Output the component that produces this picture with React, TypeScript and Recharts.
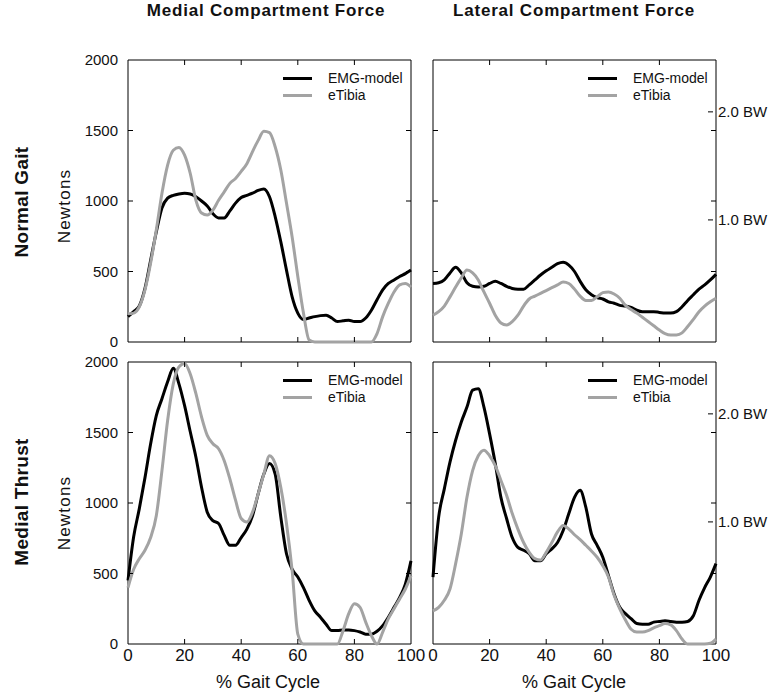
import { Line, LineChart, ReferenceArea, XAxis, YAxis } from "recharts"

const FONT = '"Liberation Sans", Arial, sans-serif'

const gaitPct = [
  0, 2, 4, 6, 8, 10, 12, 14, 16, 18, 20, 22, 24, 26, 28, 30, 32, 34, 36, 38, 40, 42, 44, 46, 48, 50,
  52, 54, 56, 58, 60, 62, 64, 66, 68, 70, 72, 74, 76, 78, 80, 82, 84, 86, 88, 90, 92, 94, 96, 98, 100,
]

// Normal gait
const normalMedialEmg = [
  180, 215, 255, 380, 580, 780, 950, 1020, 1040, 1050,
  1055, 1050, 1030, 1000, 965, 910, 880, 880, 930, 985,
  1025, 1040, 1055, 1075, 1085, 1030, 890, 710, 510, 320,
  205, 160, 170, 180, 187, 190, 170, 145, 150, 155,
  145, 145, 170, 225, 300, 370, 415, 440, 465, 485,
  510,
]
const normalMedialTibia = [
  200, 205, 250, 370, 560, 795, 1055, 1255, 1360, 1380,
  1325, 1195, 1005, 915, 900, 935, 1005, 1065, 1125, 1160,
  1210, 1265, 1350, 1430, 1495, 1485, 1385, 1220, 985, 745,
  465, 205, 15, 0, 0, 0, 0, 0, 0, 0,
  0, 0, 0, 0, 60, 180, 275, 355, 405, 415,
  390,
]
const normalLateralEmg = [
  415, 420, 440, 490, 530, 490, 420, 395, 390, 395,
  415, 430, 415, 395, 380, 375, 375, 405, 440, 475,
  505, 530, 555, 565, 545, 500, 430, 370, 335, 315,
  305, 285, 275, 260, 255, 245, 225, 215, 215, 215,
  210, 205, 205, 215, 250, 295, 335, 375, 405, 440,
  480,
]
const normalLateralTibia = [
  190, 215, 255, 320, 390, 455, 510, 490, 440, 355,
  275, 190, 135, 120, 145, 190, 255, 305, 325, 345,
  365, 385, 405, 425, 415, 375, 325, 295, 295, 320,
  350, 355, 340, 310, 260, 230, 205, 175, 145, 115,
  85, 60, 50, 50, 65, 110, 160, 215, 255, 285,
  310,
]

// Medial thrust
const thrustMedialEmg = [
  450, 760, 960, 1180, 1420, 1620, 1740, 1860, 1955, 1845,
  1690, 1505, 1325, 1110, 935, 875, 855, 770, 700, 700,
  755, 815, 910, 1065, 1205, 1280, 1205, 900, 640, 530,
  475, 400, 310, 235, 190, 140, 95, 95, 100, 100,
  95, 85, 70, 70, 90, 130, 190, 260, 330, 425,
  590,
]
const thrustMedialTibia = [
  400, 530, 605, 665, 755, 910, 1230, 1585, 1845, 1965,
  1990, 1915, 1775, 1610, 1480, 1420, 1385, 1300, 1170, 1020,
  890, 865, 935, 1065, 1205, 1335, 1280, 1110, 855, 520,
  70, 0, 0, 0, 0, 0, 0, 0, 95, 215,
  285, 260, 155, 60, 0, 85, 180, 250, 320, 390,
  485,
]
const thrustLateralEmg = [
  475, 900, 1100, 1290, 1445, 1575, 1680, 1800, 1810, 1680,
  1490, 1280, 1040, 890, 755, 685, 665, 640, 590, 590,
  640, 675, 720, 805, 925, 1040, 1090, 970, 780, 700,
  615, 485, 355, 260, 215, 180, 145, 140, 140, 155,
  160, 165, 160, 155, 155, 160, 200, 310, 400, 475,
  570,
]
const thrustLateralTibia = [
  235, 260, 310, 390, 570, 780, 1040, 1230, 1335, 1375,
  1335, 1265, 1160, 1055, 925, 815, 720, 650, 605, 595,
  650, 720, 795, 840, 815, 775, 740, 700, 660, 615,
  555, 475, 345, 250, 170, 105, 85, 85, 95, 115,
  130, 145, 135, 95, 35, 0, 0, 0, 0, 5,
  35,
]

const xTicks = [0, 20, 40, 60, 80, 100]
const newtonTicks = [0, 500, 1000, 1500, 2000]
const bwTicks = [1, 2]
const bwDomain = [-0.13, 2.48]
const seriesNames = ["EMG-model", "eTibia"]
const seriesColors = ["#000000", "#a3a3a3"]
const columnTitles = ["Medial Compartment Force", "Lateral Compartment Force"]
const rowTitles = ["Normal Gait", "Medial Thrust"]

const PLOT_W = 283
const PLOT_H = 282
const PAD_TOP = 12
const colLeft = [128, 433]
const rowTop = [60, 362]

function XTick({ x, payload, bottom, showLabel }: any) {
  const v = payload.value
  const inner = v > 0 && v < 100
  return (
    <g>
      {inner && <line x1={x} y1={bottom} x2={x} y2={bottom - 5} stroke="#000" />}
      {inner && <line x1={x} y1={bottom - PLOT_H} x2={x} y2={bottom - PLOT_H + 5} stroke="#000" />}
      {showLabel && (
        <text x={x} y={bottom + 17} textAnchor="middle" fontSize={17} fontFamily={FONT} fill="#111">
          {v}
        </text>
      )}
    </g>
  )
}

function NTick({ y, payload, left, showLabel }: any) {
  const v = payload.value
  const inner = v > 0 && v < 2000
  return (
    <g>
      {inner && <line x1={left} y1={y} x2={left + 5} y2={y} stroke="#000" />}
      {inner && <line x1={left + PLOT_W - 5} y1={y} x2={left + PLOT_W} y2={y} stroke="#000" />}
      {showLabel && (
        <text x={left - 10} y={y} dy="0.35em" textAnchor="end" fontSize={15} fontFamily={FONT} fill="#111">
          {v}
        </text>
      )}
    </g>
  )
}

function BwTick({ y, payload, right }: any) {
  return (
    <g>
      <line x1={right - 8} y1={y} x2={right - 3} y2={y} stroke="#000" />
      <text x={right + 2} y={y} dy="0.35em" textAnchor="start" fontSize={15} fontFamily={FONT} fill="#111">
        {payload.value.toFixed(1)} BW
      </text>
    </g>
  )
}

function Panel({ col, row, emg, tibia }: any) {
  const isLeft = col === 0
  const isBottom = row === 1
  const axisW = isLeft ? 60 : 10
  const rightW = isLeft ? 20 : 56
  const bottomH = isBottom ? 30 : 12
  const width = axisW + PLOT_W + rightW
  const height = PAD_TOP + PLOT_H + bottomH
  const plotBottom = PAD_TOP + PLOT_H
  const plotRight = axisW + PLOT_W
  const data = gaitPct.map((pct, i) => ({ pct, emg: emg[i], tibia: tibia[i] }))

  return (
    <div
      style={{
        position: "absolute",
        left: colLeft[col] - axisW,
        top: rowTop[row] - PAD_TOP,
        width,
        height,
      }}
    >
      <LineChart
        width={width}
        height={height}
        data={data}
        margin={{ top: PAD_TOP, right: isLeft ? rightW : 0, bottom: 0, left: 0 }}
      >
        <XAxis
          dataKey="pct"
          type="number"
          domain={[0, 100]}
          ticks={xTicks}
          interval={0}
          height={bottomH}
          tickLine={false}
          axisLine={false}
          tickSize={0}
          tickMargin={0}
          tick={(p: any) => <XTick {...p} bottom={plotBottom} showLabel={isBottom} />}
        />
        <YAxis
          yAxisId="n"
          type="number"
          domain={[0, 2000]}
          ticks={newtonTicks}
          interval={0}
          width={axisW}
          tickLine={false}
          axisLine={false}
          tickSize={0}
          tickMargin={0}
          tick={(p: any) => <NTick {...p} left={axisW} showLabel={isLeft} />}
        />
        {!isLeft && (
          <YAxis
            yAxisId="bw"
            orientation="right"
            type="number"
            domain={bwDomain}
            allowDataOverflow
            ticks={bwTicks}
            interval={0}
            width={rightW}
            tickLine={false}
            axisLine={false}
            tickSize={0}
            tickMargin={0}
            tick={(p: any) => <BwTick {...p} right={plotRight} />}
          />
        )}
        <ReferenceArea yAxisId="n" x1={0} x2={100} y1={0} y2={2000} fill="none" stroke="#000" strokeWidth={1} />
        <Line
          yAxisId="n"
          type="monotone"
          dataKey="emg"
          name={seriesNames[0]}
          stroke={seriesColors[0]}
          strokeWidth={3}
          dot={false}
          isAnimationActive={false}
        />
        <Line
          yAxisId="n"
          type="monotone"
          dataKey="tibia"
          name={seriesNames[1]}
          stroke={seriesColors[1]}
          strokeWidth={3}
          dot={false}
          isAnimationActive={false}
        />
      </LineChart>
      {seriesNames.map((name, i) => (
        <div key={name}>
          <div
            style={{
              position: "absolute",
              left: plotRight - 128,
              top: PAD_TOP + 18 + i * 17 - 1.5,
              width: 29,
              height: 3,
              background: seriesColors[i],
            }}
          />
          <div
            style={{
              position: "absolute",
              left: plotRight - 83,
              top: PAD_TOP + 18 + i * 17 - 8,
              lineHeight: "16px",
              fontSize: 14,
              fontFamily: FONT,
              color: "#111",
              whiteSpace: "nowrap",
            }}
          >
            {name}
          </div>
        </div>
      ))}
    </div>
  )
}

const rotated = (cx: number, cy: number, size: number, bold: boolean, spacing: number) => ({
  position: "absolute" as const,
  left: cx,
  top: cy,
  transform: "translate(-50%, -50%) rotate(-90deg)",
  fontSize: size,
  fontWeight: bold ? "bold" : "normal",
  letterSpacing: spacing,
  whiteSpace: "nowrap" as const,
  lineHeight: "20px",
  color: "#111",
})

export default function App() {
  return (
    <div
      style={{
        position: "absolute",
        left: 0,
        top: 0,
        width: 771,
        height: 695,
        background: "#fff",
        fontFamily: FONT,
        overflow: "hidden",
      }}
    >
      {columnTitles.map((t, i) => (
        <div
          key={t}
          style={{
            position: "absolute",
            left: [266, 574][i] - 150,
            top: 1,
            width: 300,
            textAlign: "center",
            fontSize: 17,
            fontWeight: "bold",
            letterSpacing: 0.8,
            lineHeight: "20px",
            color: "#111",
          }}
        >
          {t}
        </div>
      ))}
      {rowTitles.map((t, i) => (
        <div key={t} style={rotated(21.5, [202, 502][i], 19, true, 0.3)}>
          {t}
        </div>
      ))}
      {[206, 513].map((cy) => (
        <div key={cy} style={rotated(65, cy, 17, false, 1.2)}>
          Newtons
        </div>
      ))}
      {[268, 574].map((cx) => (
        <div
          key={cx}
          style={{
            position: "absolute",
            left: cx - 100,
            top: 672,
            width: 200,
            textAlign: "center",
            fontSize: 18,
            lineHeight: "20px",
            color: "#111",
          }}
        >
          % Gait Cycle
        </div>
      ))}
      <Panel col={0} row={0} emg={normalMedialEmg} tibia={normalMedialTibia} />
      <Panel col={1} row={0} emg={normalLateralEmg} tibia={normalLateralTibia} />
      <Panel col={0} row={1} emg={thrustMedialEmg} tibia={thrustMedialTibia} />
      <Panel col={1} row={1} emg={thrustLateralEmg} tibia={thrustLateralTibia} />
    </div>
  )
}
